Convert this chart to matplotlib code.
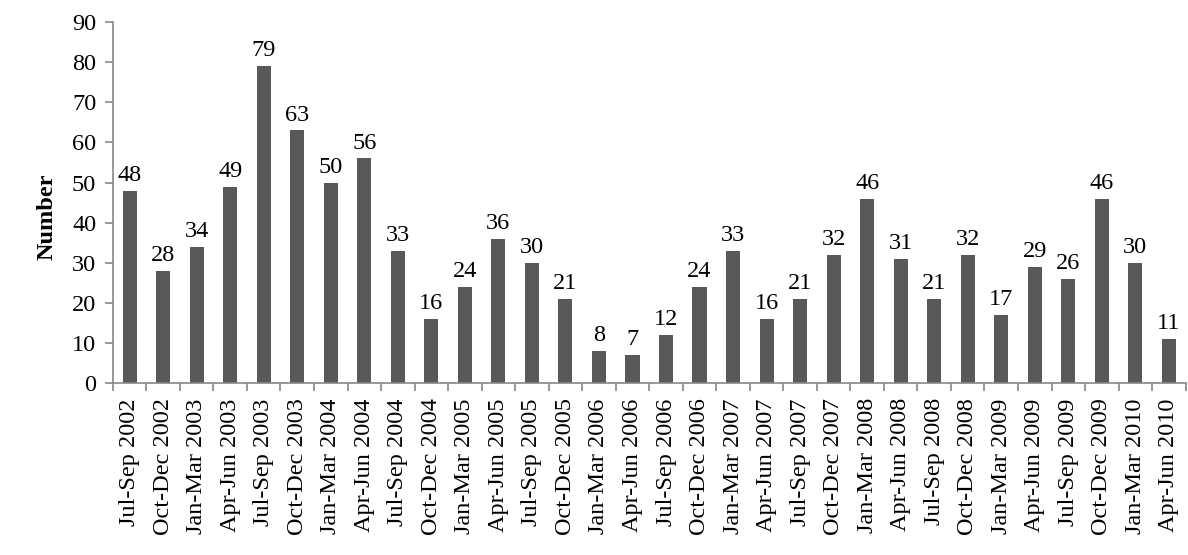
import numpy as np
import matplotlib.pyplot as plt
from matplotlib.ticker import FixedLocator

plt.rcParams['font.family'] = ['Liberation Serif', 'DejaVu Serif']

quarters = ['Jul-Sep 2002', 'Oct-Dec 2002', 'Jan-Mar 2003', 'Apr-Jun 2003',
            'Jul-Sep 2003', 'Oct-Dec 2003', 'Jan-Mar 2004', 'Apr-Jun 2004',
            'Jul-Sep 2004', 'Oct-Dec 2004', 'Jan-Mar 2005', 'Apr-Jun 2005',
            'Jul-Sep 2005', 'Oct-Dec 2005', 'Jan-Mar 2006', 'Apr-Jun 2006',
            'Jul-Sep 2006', 'Oct-Dec 2006', 'Jan-Mar 2007', 'Apr-Jun 2007',
            'Jul-Sep 2007', 'Oct-Dec 2007', 'Jan-Mar 2008', 'Apr-Jun 2008',
            'Jul-Sep 2008', 'Oct-Dec 2008', 'Jan-Mar 2009', 'Apr-Jun 2009',
            'Jul-Sep 2009', 'Oct-Dec 2009', 'Jan-Mar 2010', 'Apr-Jun 2010']
counts = [48, 28, 34, 49, 79, 63, 50, 56, 33, 16, 24, 36, 30, 21, 8, 7,
          12, 24, 33, 16, 21, 32, 46, 31, 21, 32, 17, 29, 26, 46, 30, 11]

fs = 17.5

fig = plt.figure(figsize=(11.88, 5.55), dpi=100)
ax = fig.add_axes([0.095, 0.31, 0.903, 0.65])

x = np.arange(len(quarters))
ax.bar(x, counts, width=0.42, color='#595959')

for xi, v in zip(x, counts):
    ax.text(xi, v + 1.2, str(v), ha='center', va='bottom', fontsize=fs)

ax.set_xlim(-0.5, len(quarters) - 0.5)
ax.set_ylim(0, 90)
ax.set_yticks(range(0, 91, 10))
ax.tick_params(axis='y', labelsize=fs, length=6, color='#868686', width=1.2, pad=6)

# category labels centred on bars, tick marks on boundaries
ax.set_xticks(x)
ax.set_xticklabels(quarters, rotation=90, fontsize=fs)
ax.tick_params(axis='x', which='major', length=0, pad=11)
ax.xaxis.set_minor_locator(FixedLocator(np.arange(-0.5, len(quarters), 1.0)))
ax.tick_params(axis='x', which='minor', length=6, color='#868686', width=1.2)

for side in ['top', 'right']:
    ax.spines[side].set_visible(False)
for side in ['left', 'bottom']:
    ax.spines[side].set_color('#868686')
    ax.spines[side].set_linewidth(1.2)

ax.set_ylabel('Number', fontsize=fs, fontweight='bold')
ax.yaxis.set_label_coords(-0.052, 0.46)

fig.savefig('out.png', dpi=100)
